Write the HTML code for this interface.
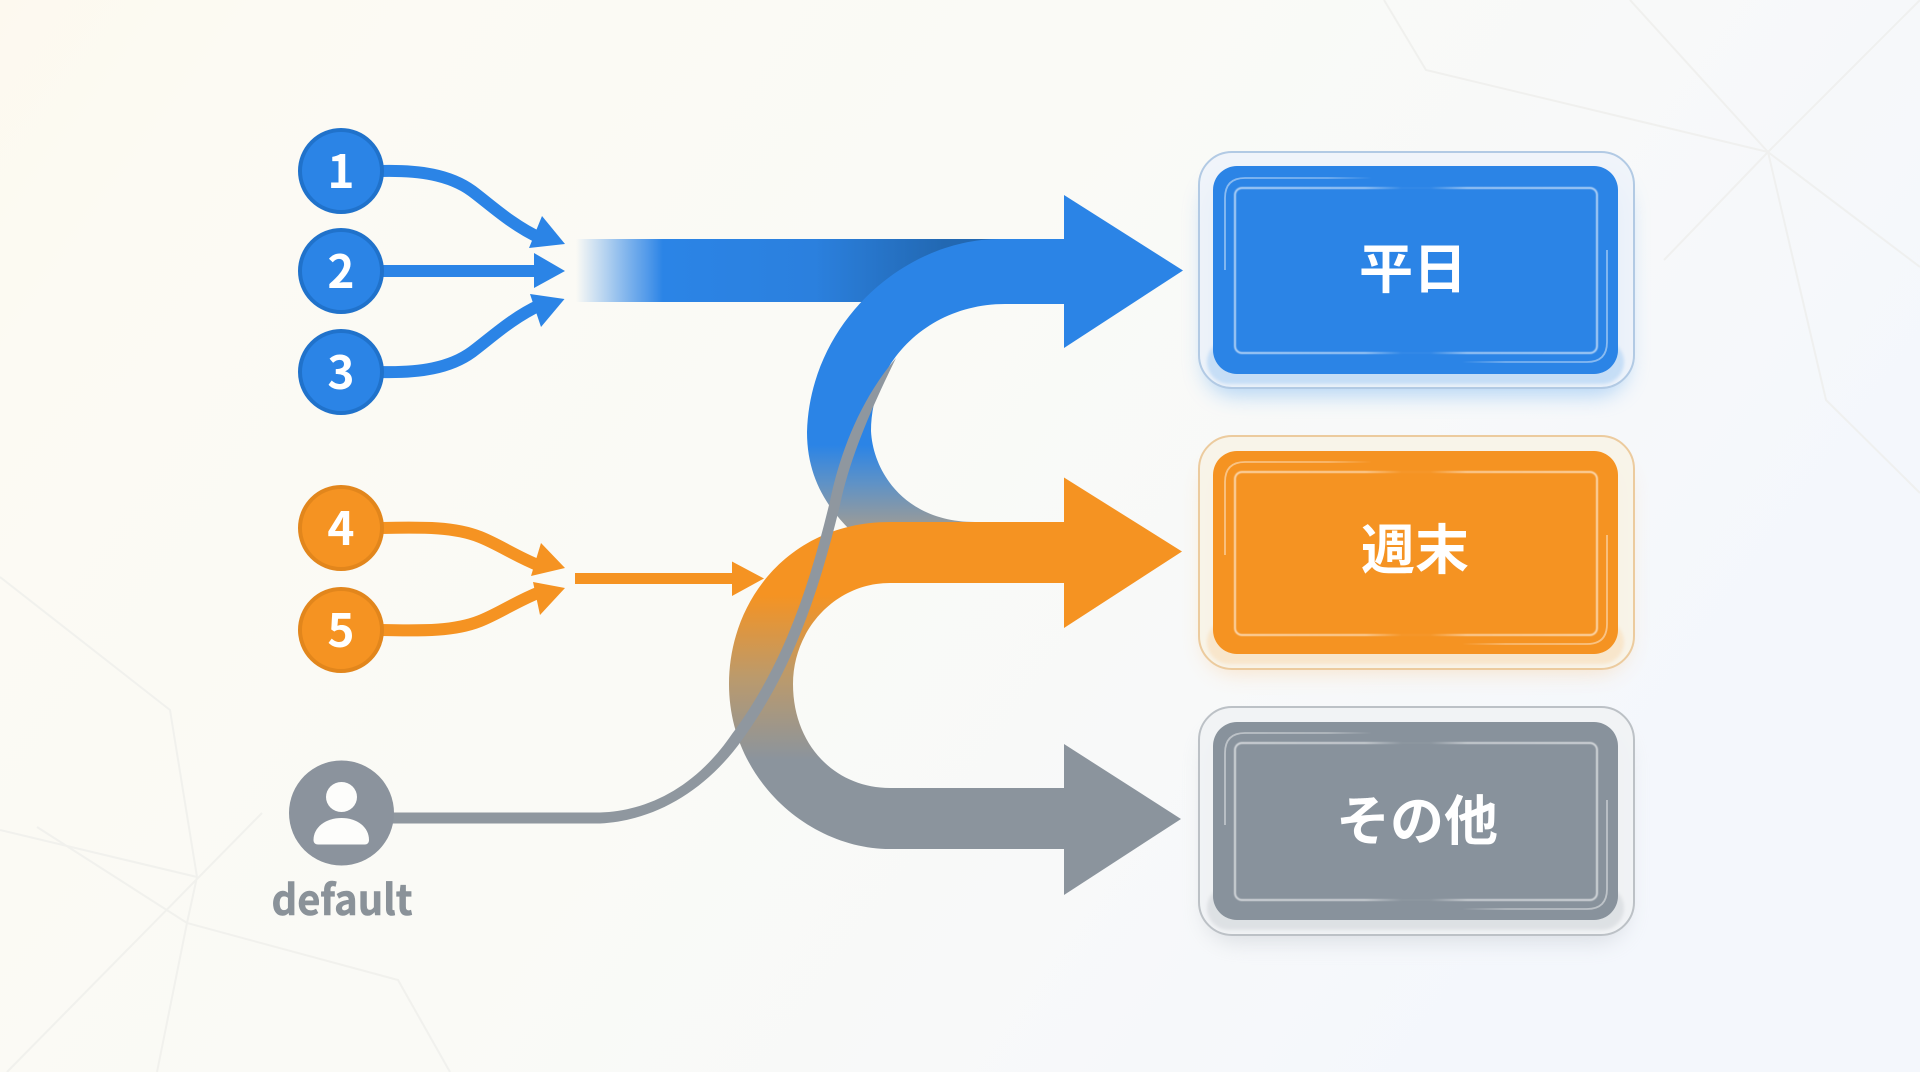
<!DOCTYPE html>
<html lang="ja"><head><meta charset="utf-8"><title>Diagram</title>
<style>
html,body{margin:0;padding:0;width:1920px;height:1072px;overflow:hidden;background:#fbfaf5}
svg{display:block;position:absolute;left:0;top:0}
.n{font-family:"Noto Sans CJK JP","Liberation Sans",sans-serif;font-weight:700;font-size:46px;fill:#fff;text-anchor:middle}
.c{font-family:"Liberation Sans","Noto Sans CJK JP",sans-serif;font-weight:700;font-size:54px;fill:#fff;text-anchor:middle}
</style></head><body>
<svg width="1920" height="1072" viewBox="0 0 1920 1072" xmlns="http://www.w3.org/2000/svg">
<defs>
<linearGradient id="bg" x1="0" y1="0" x2="1" y2="0.4">
<stop offset="0" stop-color="#fdf9ef"/><stop offset="0.12" stop-color="#fcfaf3"/><stop offset="0.5" stop-color="#fafaf6"/><stop offset="0.75" stop-color="#f8f9f9"/><stop offset="1" stop-color="#f4f7fc"/></linearGradient>
<linearGradient id="band" gradientUnits="userSpaceOnUse" x1="576" y1="0" x2="1010" y2="0">
<stop offset="0" stop-color="#2b84e6" stop-opacity="0"/><stop offset="0.07" stop-color="#2b84e6" stop-opacity=".35"/><stop offset="0.16" stop-color="#3a8ce8" stop-opacity=".85"/><stop offset="0.2" stop-color="#2b84e6"/><stop offset="0.55" stop-color="#2b80de"/><stop offset="0.85" stop-color="#2268b2"/><stop offset="1" stop-color="#2268b2"/></linearGradient>
<linearGradient id="bS" gradientUnits="userSpaceOnUse" x1="0" y1="445" x2="0" y2="522">
<stop offset="0" stop-color="#2b84e6"/><stop offset="0.5" stop-color="#5f92c6"/><stop offset="1" stop-color="#959a9c"/></linearGradient>
<linearGradient id="oC" gradientUnits="userSpaceOnUse" x1="0" y1="595" x2="0" y2="760">
<stop offset="0" stop-color="#f59322"/><stop offset="0.5" stop-color="#bb9a6c"/><stop offset="1" stop-color="#8b949d"/></linearGradient>
<linearGradient id="ring" x1="0" y1="0" x2="1" y2="0">
<stop offset="0" stop-color="#fff" stop-opacity=".62"/><stop offset="0.36" stop-color="#fff" stop-opacity=".55"/><stop offset="0.46" stop-color="#fff" stop-opacity=".04"/><stop offset="0.54" stop-color="#fff" stop-opacity=".04"/><stop offset="0.64" stop-color="#fff" stop-opacity=".55"/><stop offset="1" stop-color="#fff" stop-opacity=".62"/></linearGradient>
<linearGradient id="fadeL" gradientUnits="userSpaceOnUse" x1="1225" y1="0" x2="1372" y2="0">
<stop offset="0" stop-color="#fff" stop-opacity=".45"/><stop offset="0.7" stop-color="#fff" stop-opacity=".35"/><stop offset="1" stop-color="#fff" stop-opacity="0"/></linearGradient>
<linearGradient id="fadeR" gradientUnits="userSpaceOnUse" x1="1462" y1="0" x2="1607" y2="0">
<stop offset="0" stop-color="#fff" stop-opacity="0"/><stop offset="0.3" stop-color="#fff" stop-opacity=".35"/><stop offset="1" stop-color="#fff" stop-opacity=".45"/></linearGradient>
<filter id="g" x="-20%" y="-30%" width="140%" height="170%"><feGaussianBlur stdDeviation="11"/></filter>
<filter id="s" x="-10%" y="-10%" width="120%" height="120%"><feGaussianBlur stdDeviation="1.6"/></filter>
<filter id="t" x="-2%" y="-2%" width="104%" height="104%"><feGaussianBlur stdDeviation="0.5"/></filter>
</defs>
<rect width="1920" height="1072" fill="url(#bg)"/>
<!-- faint background lines -->
<g fill="none" stroke="#ecedea" stroke-width="2" opacity=".7">
<path d="M1384 0L1426 70L1768 152M1630 0L1768 152M1920 0L1768 152L1664 260M1768 152L1826 400L1920 493M1768 152L1920 267"/>
<path d="M0 577L170 710L197 877L187 923L157 1072M0 830L197 877M37 827L187 923L398 980L450 1072M262 813L7 1072"/>
</g>
<!-- blue band -->
<rect x="576" y="239" width="440" height="63" fill="url(#band)"/>
<!-- blue S -->
<path d="M1064 239L1000 239C905 239 810 322 807 432C807 475 825 505 850 530L1000 530L1000 522L975 522C905 522 873 472 871 431C871 360 930 304 1005 304L1064 304Z" fill="url(#bS)"/>
<polygon points="1064,195 1183,270.5 1064,348" fill="#2b84e6"/>
<!-- orange to gray -->
<path d="M1064 522L890 522C790 522 729 600 729 684C729 780 810 849 890 849L1064 849L1064 788L890 788C835 788 793 745 793 684C793 630 835 583 890 583L1064 583Z" fill="url(#oC)"/>
<polygon points="1064,477.5 1182,551.5 1064,628" fill="#f59322"/>
<polygon points="1064,744 1181,819 1064,895" fill="#8b949d"/>
<!-- gray thin line -->
<path d="M393 812.5L600 812.5C648 811 696 787 732 734C785 663 810 583 830 501C840 453 860 400 896 358C872 407 850 457 840 505C820 587 795 667 742 740C704 793 652 821 600 823.5L393 823.5Z" fill="#8f979f"/>
<!-- small orange arrow -->
<rect x="575" y="573" width="158" height="11" fill="#f59322"/>
<polygon points="732,561.5 764,578.5 732,596" fill="#f59322"/>
<!-- input arrows blue -->
<g fill="none" stroke="#2b84e6" stroke-width="12">
<path d="M380 171C420 170 450 175 472 191C492 206 512 225 540 238"/>
<path d="M380 271L540 271"/>
<path d="M380 372C420 373 450 368 472 352C492 337 512 318 540 305"/>
</g>
<g fill="#2b84e6">
<polygon points="542,216 565,244 529,248"/>
<polygon points="534,253 565,271 534,288"/>
<polygon points="530,294 564.5,299 541,327"/>
</g>
<!-- input arrows orange -->
<g fill="none" stroke="#f59322" stroke-width="12">
<path d="M380 528C425 527 455 527 480 537C500 545 515 556 540 566"/>
<path d="M380 630C425 631 455 631 480 621C500 613 515 602 540 592"/>
</g>
<g fill="#f59322">
<polygon points="541,543 565,568 531,576"/>
<polygon points="533,582 565,588 540,615"/>
</g>
<!-- circles -->
<g stroke-width="4">
<circle cx="341" cy="171" r="41" fill="#2b84e6" stroke="#2072cb"/>
<circle cx="341" cy="271" r="41" fill="#2b84e6" stroke="#2072cb"/>
<circle cx="341" cy="372" r="41" fill="#2b84e6" stroke="#2072cb"/>
<circle cx="341" cy="528" r="41" fill="#f59322" stroke="#e2861c"/>
<circle cx="341" cy="630" r="41" fill="#f59322" stroke="#e2861c"/>
</g>
<g>
<text class="n" x="341" y="188">1</text>
<text class="n" x="341" y="288">2</text>
<text class="n" x="341" y="389">3</text>
<text class="n" x="341" y="545">4</text>
<text class="n" x="341" y="647">5</text>
</g>
<!-- default -->
<circle cx="341.5" cy="813" r="52.5" fill="#8b939d"/>
<ellipse cx="341.5" cy="797" rx="15.5" ry="15" fill="#fdfdfb"/>
<path d="M313.5 840C313.5 827 326 818 341.5 818C357 818 369 827 369 840C369 843 367 844.5 365 844.5L318 844.5C315.5 844.5 313.5 843 313.5 840Z" fill="#fdfdfb"/>
<text x="342" y="915" text-anchor="middle" font-family="'Noto Sans CJK JP','Liberation Sans',sans-serif" font-weight="700" font-size="42" fill="#8a9299" stroke="#8a9299" stroke-width=".6" textLength="141" lengthAdjust="spacingAndGlyphs">default</text>
<!-- card 1 -->
<g>
<rect x="1205" y="180" width="422" height="215" rx="30" fill="#6aaef0" opacity=".5" filter="url(#g)"/>
<rect x="1199" y="152" width="435" height="236" rx="33" fill="#eef3f9" fill-opacity=".9" stroke="#b2cae4" stroke-width="2"/>
<rect x="1207" y="340" width="417" height="44" rx="22" fill="#a9cff4" opacity=".55" filter="url(#s)"/>
<rect x="1213" y="166" width="405" height="208" rx="24" fill="#2b84e6"/>
<rect x="1235" y="188" width="362" height="165" rx="7" fill="none" stroke="url(#ring)" stroke-width="2" filter="url(#t)"/>
<path d="M1372 178L1245 178Q1225 178 1225 198L1225 270" fill="none" stroke="url(#fadeL)" stroke-width="1.8"/>
<path d="M1462 362L1587 362Q1607 362 1607 342L1607 250" fill="none" stroke="url(#fadeR)" stroke-width="1.8"/>
<text class="c" x="1413" y="288">平日</text>
</g>
<!-- card 2 -->
<g>
<rect x="1205" y="460" width="422" height="212" rx="30" fill="#f8c68a" opacity=".45" filter="url(#g)"/>
<rect x="1199" y="436" width="435" height="233" rx="33" fill="#f8f3e8" fill-opacity=".95" stroke="#eccb9e" stroke-width="2"/>
<rect x="1207" y="620" width="417" height="44" rx="22" fill="#f9dcb5" opacity=".55" filter="url(#s)"/>
<rect x="1213" y="451" width="405" height="203" rx="24" fill="#f59322"/>
<rect x="1235" y="472" width="362" height="163" rx="7" fill="none" stroke="url(#ring)" stroke-width="2" filter="url(#t)"/>
<path d="M1372 462L1245 462Q1225 462 1225 482L1225 555" fill="none" stroke="url(#fadeL)" stroke-width="1.8"/>
<path d="M1462 644L1587 644Q1607 644 1607 624L1607 535" fill="none" stroke="url(#fadeR)" stroke-width="1.8"/>
<text class="c" x="1415" y="569">週末</text>
</g>
<!-- card 3 -->
<g>
<rect x="1205" y="730" width="422" height="212" rx="30" fill="#b4bac1" opacity=".4" filter="url(#g)"/>
<rect x="1199" y="707" width="435" height="228" rx="33" fill="#f0f2f4" fill-opacity=".95" stroke="#bcc1c6" stroke-width="2"/>
<rect x="1207" y="886" width="417" height="44" rx="22" fill="#d2d6da" opacity=".6" filter="url(#s)"/>
<rect x="1213" y="722" width="405" height="198" rx="24" fill="#88929c"/>
<rect x="1235" y="743" width="362" height="157" rx="7" fill="none" stroke="url(#ring)" stroke-width="2" filter="url(#t)"/>
<path d="M1372 733L1245 733Q1225 733 1225 753L1225 825" fill="none" stroke="url(#fadeL)" stroke-width="1.8"/>
<path d="M1462 909L1587 909Q1607 909 1607 889L1607 800" fill="none" stroke="url(#fadeR)" stroke-width="1.8"/>
<text class="c" x="1417" y="840">その他</text>
</g>
</svg>
</body></html>
